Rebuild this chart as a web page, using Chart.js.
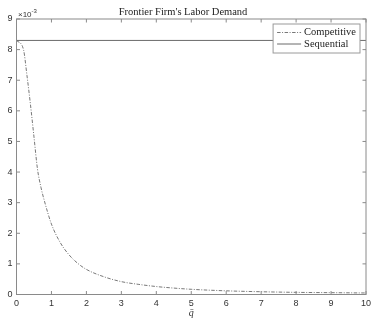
<!DOCTYPE html>
<html>
<head>
<meta charset="utf-8">
<script src="https://cdn.jsdelivr.net/npm/chart.js@4"></script>
<style>
  html, body { margin: 0; padding: 0; background: #fff; }
  canvas { display: block; }
</style>
</head>
<body>
<canvas id="myChart" width="372" height="320"></canvas>
<script>
'use strict';

// values, y in units of 1e-3
var qbar = [0, 0.2, 0.3, 0.4, 0.5, 0.6, 0.7, 0.8, 1.0, 1.25, 1.5, 1.75, 2, 2.5, 3, 3.5, 4, 4.5, 5, 6, 7, 8, 9, 10];
var competitive = [8.3, 8.0, 7.15, 6.2, 5.15, 4.1, 3.5, 3.05, 2.3, 1.7, 1.3, 1.02, 0.82, 0.58, 0.42, 0.33, 0.26, 0.21, 0.17, 0.12, 0.09, 0.07, 0.06, 0.05];
var seqQ = [0, 10];
var sequential = [8.3, 8.3];
var xTicks = [0, 1, 2, 3, 4, 5, 6, 7, 8, 9, 10];
var yTicks = [0, 1, 2, 3, 4, 5, 6, 7, 8, 9];

var ctx = document.getElementById("myChart");
var axisColor = '#8a8a8a';
var textColor = '#333';

function pts(xs, ys) {
  return xs.map(function (x, i) { return { x: x, y: ys[i] }; });
}

// box, inward ticks, exponent and legend, MATLAB style
var frame = {
  id: 'frame',
  afterDraw: function (chart) {
    var c = chart.ctx;
    var a = chart.chartArea;
    var xs = chart.scales.x, ys = chart.scales.y;
    c.save();
    c.strokeStyle = axisColor;
    c.lineWidth = 1;
    c.strokeRect(a.left, a.top, a.right - a.left, a.bottom - a.top);
    c.beginPath();
    xTicks.forEach(function (t) {
      var px = xs.getPixelForValue(t);
      c.moveTo(px, a.bottom); c.lineTo(px, a.bottom - 3.5);
      c.moveTo(px, a.top); c.lineTo(px, a.top + 3.5);
    });
    yTicks.forEach(function (t) {
      var py = ys.getPixelForValue(t);
      c.moveTo(a.left, py); c.lineTo(a.left + 3.5, py);
      c.moveTo(a.right, py); c.lineTo(a.right - 3.5, py);
    });
    c.stroke();

    // x10^-3
    c.fillStyle = textColor;
    c.textBaseline = 'middle';
    c.textAlign = 'left';
    c.font = '8px "Liberation Sans", Arial, sans-serif';
    var base = '\u00d710';
    c.fillText(base, a.left + 1.5, 14.5);
    var w = c.measureText(base).width;
    c.font = '6px "Liberation Sans", Arial, sans-serif';
    c.fillText('-3', a.left + 1.5 + w, 11.5);

    // legend
    var ds = chart.data.datasets;
    c.font = '10.5px "Liberation Serif", "Times New Roman", serif';
    var tw = 0;
    ds.forEach(function (d) { tw = Math.max(tw, c.measureText(d.label).width); });
    var bw = 4 + 24 + 3 + tw + 4;
    var bh = 29;
    var bx = a.right - 6 - bw, by = a.top + 5;
    c.fillStyle = '#fff';
    c.fillRect(bx, by, bw, bh);
    c.strokeStyle = '#9a9a9a';
    c.strokeRect(bx, by, bw, bh);
    ds.forEach(function (d, i) {
      var ly = by + 8.5 + i * 11.5;
      c.beginPath();
      c.strokeStyle = d.borderColor;
      c.lineWidth = d.borderWidth;
      c.setLineDash(d.borderDash || []);
      c.moveTo(bx + 4, ly); c.lineTo(bx + 28, ly);
      c.stroke();
      c.setLineDash([]);
      c.fillStyle = '#222';
      c.fillText(d.label, bx + 31, ly);
    });
    c.restore();
  }
};

new Chart(ctx, {
  type: 'line',
  data: {
    datasets: [
      {
        label: 'Competitive',
        data: pts(qbar, competitive),
        borderColor: '#555',
        borderWidth: 0.8,
        borderDash: [3.5, 1.5, 1, 1.5],
        pointRadius: 0,
        cubicInterpolationMode: 'monotone',
        fill: false
      },
      {
        label: 'Sequential',
        data: pts(seqQ, sequential),
        borderColor: '#6a6a6a',
        borderWidth: 1,
        pointRadius: 0,
        fill: false
      }
    ]
  },
  options: {
    responsive: false,
    animation: false,
    layout: { padding: { left: 0, right: 6, top: 0, bottom: 0 } },
    plugins: {
      legend: { display: false },
      tooltip: { enabled: false },
      title: {
        display: true,
        text: "Frontier Firm's Labor Demand",
        color: '#222',
        font: { family: '"Liberation Serif", "Times New Roman", serif', size: 10.5, weight: 'normal' },
        padding: { top: 6, bottom: 0.4 }
      }
    },
    scales: {
      x: {
        type: 'linear',
        min: 0,
        max: 10,
        afterBuildTicks: function (s) { s.ticks = xTicks.map(function (v) { return { value: v }; }); },
        afterFit: function (s) { s.height = 25.5; s.paddingRight = 0; },
        grid: { display: false, drawTicks: false },
        border: { display: false },
        ticks: {
          padding: 4,
          maxRotation: 0,
          color: textColor,
          font: { family: '"Liberation Sans", Arial, sans-serif', size: 9 }
        },
        title: {
          display: true,
          text: 'q\u0304',
          color: '#333',
          font: { family: '"Liberation Serif", "Times New Roman", serif', size: 10, style: 'italic' },
          padding: { top: 0, bottom: 1 }
        }
      },
      y: {
        min: 0,
        max: 9,
        afterBuildTicks: function (s) { s.ticks = yTicks.map(function (v) { return { value: v }; }); },
        afterFit: function (s) { s.width = 16.5; },
        grid: { display: false, drawTicks: false },
        border: { display: false },
        ticks: {
          padding: 4,
          color: textColor,
          font: { family: '"Liberation Sans", Arial, sans-serif', size: 9 }
        }
      }
    }
  },
  plugins: [frame]
});
</script>
</body>
</html>
